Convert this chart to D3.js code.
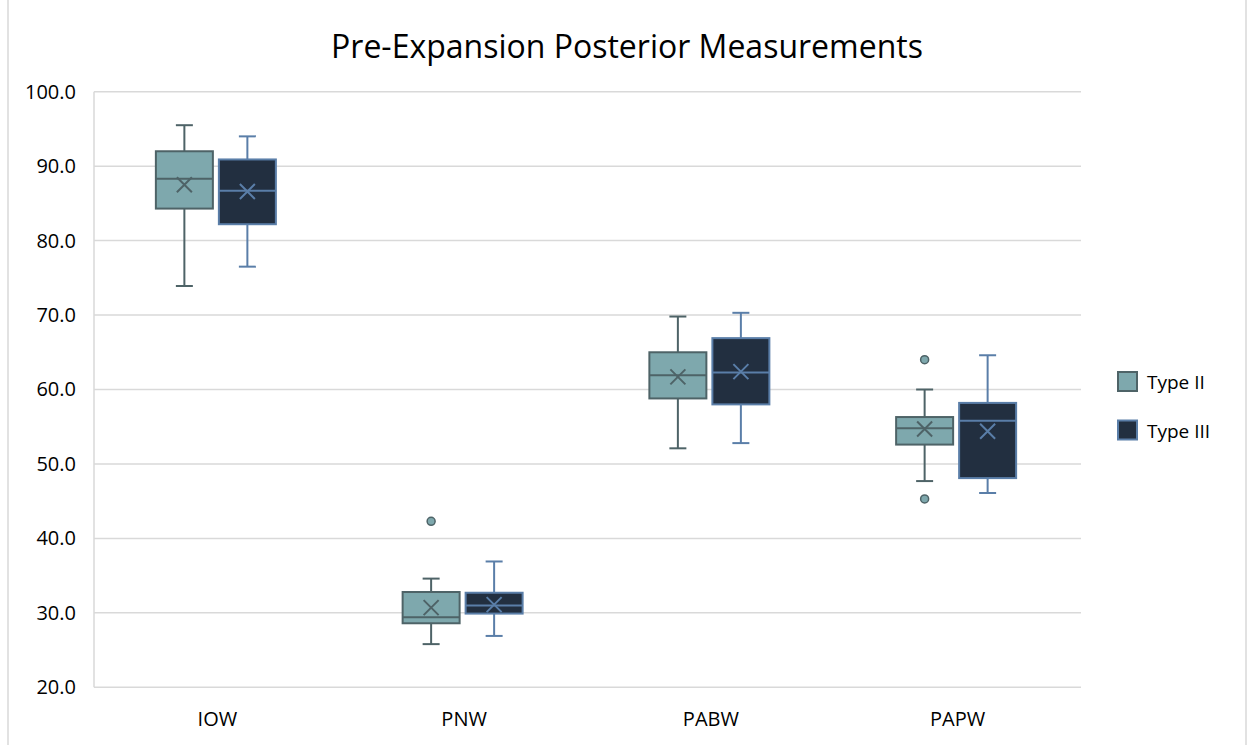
<!DOCTYPE html>
<html>
<head>
<meta charset="utf-8">
<script src="https://cdn.jsdelivr.net/npm/d3@7"></script>
<style>
  body { margin: 0; background: #fff; }
  text { font-family: "Open Sans", sans-serif; fill: #000; }
</style>
</head>
<body>
<div id="chart"></div>
<script>
// chart values
const categories = ["IOW", "PNW", "PABW", "PAPW"];
const seriesNames = ["Type II", "Type III"];
const yTicks = [20, 30, 40, 50, 60, 70, 80, 90, 100];

const typeIIMin = [73.9, 25.8, 52.1, 47.7];
const typeIIQ1 = [84.3, 28.6, 58.8, 52.6];
const typeIIMedian = [88.3, 29.4, 61.9, 54.8];
const typeIIQ3 = [92.0, 32.8, 65.0, 56.3];
const typeIIMax = [95.5, 34.6, 69.8, 60.0];
const typeIIMean = [87.5, 30.7, 61.7, 54.7];
const typeIIOutliers = [[], [42.3], [], [64.0, 45.3]];

const typeIIIMin = [76.5, 26.9, 52.8, 46.1];
const typeIIIQ1 = [82.2, 29.9, 58.0, 48.1];
const typeIIIMedian = [86.7, 31.0, 62.3, 55.8];
const typeIIIQ3 = [90.9, 32.7, 66.9, 58.2];
const typeIIIMax = [94.0, 36.9, 70.3, 64.6];
const typeIIIMean = [86.6, 31.1, 62.4, 54.4];
const typeIIIOutliers = [[], [], [], []];

const fills = ["#7ea8ad", "#222f40"];
const strokes = ["#4e6367", "#5a7ea8"];

const W = 1247, H = 745;
const plot = { left: 94, right: 1081, top: 91.7, bottom: 687.3 };

const svg = d3.select("#chart").append("svg")
  .attr("width", W)
  .attr("height", H);

// chart area border
svg.append("rect")
  .attr("x", 8).attr("y", -2)
  .attr("width", 1238).attr("height", H + 4)
  .attr("fill", "#fff")
  .attr("stroke", "#d9d9d9")
  .attr("stroke-width", 1.5);

const x = d3.scaleBand().domain(categories).range([plot.left, plot.right]);
const y = d3.scaleLinear().domain([20, 100]).range([plot.bottom, plot.top]);

// gridlines
svg.append("g")
  .selectAll("line")
  .data(yTicks)
  .enter()
  .append("line")
  .attr("x1", plot.left).attr("x2", plot.right)
  .attr("y1", d => y(d)).attr("y2", d => y(d))
  .attr("stroke", "#d9d9d9")
  .attr("stroke-width", 1.5);

svg.append("line")
  .attr("x1", plot.left).attr("x2", plot.left)
  .attr("y1", plot.top).attr("y2", plot.bottom)
  .attr("stroke", "#d9d9d9")
  .attr("stroke-width", 1.5);

// y axis labels
const yAxis = svg.append("g")
  .attr("transform", "translate(" + plot.left + ",0)")
  .call(d3.axisLeft(y).tickValues(yTicks).tickFormat(d3.format(".1f")).tickSize(0).tickPadding(18));
yAxis.select(".domain").remove();
yAxis.selectAll("text")
  .style("font-size", "20px")
  .style("font-family", "Open Sans, sans-serif")
  .attr("fill", "#000");

// x axis labels
const xAxis = svg.append("g")
  .attr("transform", "translate(0," + plot.bottom + ")")
  .call(d3.axisBottom(x).tickSize(0).tickPadding(25));
xAxis.select(".domain").remove();
xAxis.selectAll("text")
  .style("font-size", "20px")
  .style("font-family", "Open Sans, sans-serif")
  .attr("fill", "#000");

// title
svg.append("text")
  .attr("x", 627)
  .attr("y", 58)
  .attr("text-anchor", "middle")
  .style("font-size", "32px")
  .text("Pre-Expansion Posterior Measurements");

// boxes
const boxW = 57, gap = 6, shift = -1.5;
const seriesData = [
  { min: typeIIMin, q1: typeIIQ1, med: typeIIMedian, q3: typeIIQ3, max: typeIIMax, mean: typeIIMean, out: typeIIOutliers },
  { min: typeIIIMin, q1: typeIIIQ1, med: typeIIIMedian, q3: typeIIIQ3, max: typeIIIMax, mean: typeIIIMean, out: typeIIIOutliers }
];

seriesData.forEach((s, si) => {
  const g = svg.append("g");
  categories.forEach((c, i) => {
    const center = x(c) + x.bandwidth() / 2 + shift;
    const x0 = si === 0 ? center - gap / 2 - boxW : center + gap / 2;
    const mid = x0 + boxW / 2;
    const col = strokes[si];

    // whiskers
    g.append("line")
      .attr("x1", mid).attr("x2", mid)
      .attr("y1", y(s.max[i])).attr("y2", y(s.q3[i]))
      .attr("stroke", col).attr("stroke-width", 2);
    g.append("line")
      .attr("x1", mid).attr("x2", mid)
      .attr("y1", y(s.q1[i])).attr("y2", y(s.min[i]))
      .attr("stroke", col).attr("stroke-width", 2);
    [s.max[i], s.min[i]].forEach(v => {
      g.append("line")
        .attr("x1", mid - 8.5).attr("x2", mid + 8.5)
        .attr("y1", y(v)).attr("y2", y(v))
        .attr("stroke", col).attr("stroke-width", 2);
    });

    // box
    g.append("rect")
      .attr("x", x0)
      .attr("y", y(s.q3[i]))
      .attr("width", boxW)
      .attr("height", y(s.q1[i]) - y(s.q3[i]))
      .attr("fill", fills[si])
      .attr("stroke", col)
      .attr("stroke-width", 2);

    // median
    g.append("line")
      .attr("x1", x0).attr("x2", x0 + boxW)
      .attr("y1", y(s.med[i])).attr("y2", y(s.med[i]))
      .attr("stroke", col).attr("stroke-width", 2);

    // mean marker
    const my = y(s.mean[i]), r = 7.5;
    g.append("path")
      .attr("d", "M" + (mid - r) + "," + (my - r) + "L" + (mid + r) + "," + (my + r) +
        "M" + (mid + r) + "," + (my - r) + "L" + (mid - r) + "," + (my + r))
      .attr("stroke", col)
      .attr("stroke-width", 2)
      .attr("fill", "none");

    // outliers
    s.out[i].forEach(v => {
      g.append("circle")
        .attr("cx", mid)
        .attr("cy", y(v))
        .attr("r", 4)
        .attr("fill", fills[si])
        .attr("stroke", col)
        .attr("stroke-width", 1.5);
    });
  });
});

// legend
const legend = svg.append("g")
  .selectAll("g")
  .data(seriesNames)
  .enter()
  .append("g")
  .attr("transform", (d, i) => "translate(1118," + (372 + i * 48.5) + ")");

legend.append("rect")
  .attr("width", 19).attr("height", 19)
  .attr("fill", (d, i) => fills[i])
  .attr("stroke", (d, i) => strokes[i])
  .attr("stroke-width", 2);

legend.append("text")
  .attr("x", 29)
  .attr("y", 17)
  .style("font-size", "19px")
  .text(d => d);
</script>
</body>
</html>
